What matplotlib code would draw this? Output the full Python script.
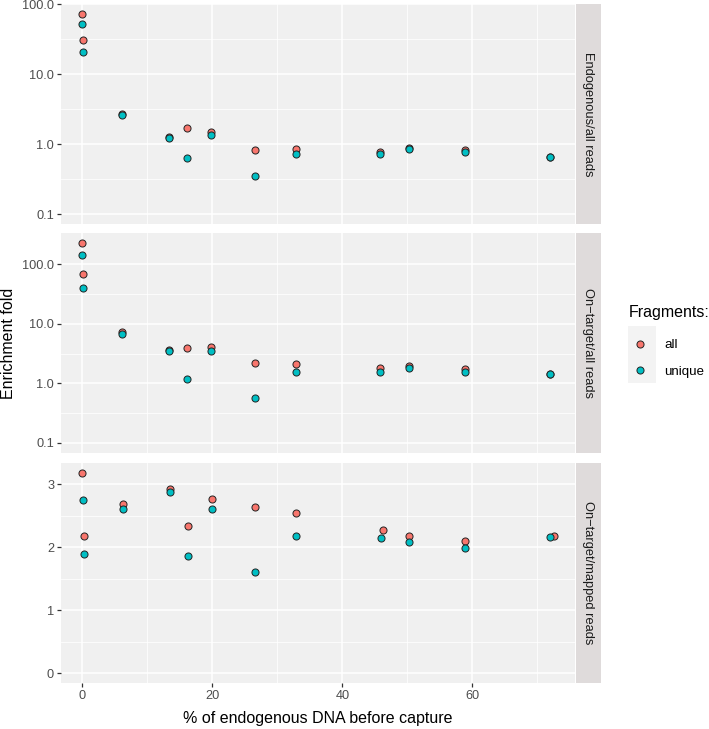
import numpy as np
import matplotlib
matplotlib.use("Agg")
import matplotlib.pyplot as plt
from matplotlib.lines import Line2D
from matplotlib.patches import Rectangle

plt.rcParams['font.family'] = ['Liberation Sans', 'DejaVu Sans']

# % of endogenous DNA before capture (same libraries in every panel)
endo_pct = [0.0, 0.15, 6.1, 13.3, 16.15, 19.85, 26.5, 32.8, 45.85, 50.25, 58.8, 71.95]
# bottom panel points sit at slightly shifted x (jitter in the source figure)
mapped_pct_all = [0.0, 0.3, 6.2, 13.4, 16.25, 19.95, 26.6, 32.9, 46.25, 50.3, 58.9, 72.5]
mapped_pct_unique = [0.15, 0.3, 6.2, 13.4, 16.25, 19.95, 26.6, 32.9, 45.9, 50.3, 58.9, 71.9]

endo_all = [72.6, 31.0, 2.72, 1.25, 1.68, 1.50, 0.82, 0.84, 0.78, 0.88, 0.83, 0.66]
endo_unique = [52.0, 20.9, 2.58, 1.23, 0.63, 1.35, 0.35, 0.72, 0.72, 0.86, 0.78, 0.66]
ontarget_all = [225.0, 67.0, 7.26, 3.67, 3.92, 4.12, 2.16, 2.11, 1.81, 1.96, 1.76, 1.42]
ontarget_unique = [139.0, 39.0, 6.7, 3.53, 1.17, 3.53, 0.57, 1.57, 1.55, 1.81, 1.57, 1.42]
mapped_all = [3.175, 2.17, 2.68, 2.92, 2.33, 2.76, 2.64, 2.54, 2.27, 2.17, 2.10, 2.18]
mapped_unique = [2.74, 1.89, 2.61, 2.88, 1.85, 2.60, 1.60, 2.18, 2.14, 2.08, 1.99, 2.16]

strip_labels = ["Endogenous/all reads", "On\u2212target/all reads", "On\u2212target/mapped reads"]
fragment_labels = ["all", "unique"]
colors = ["#F8766D", "#00BFC4"]

log_ticks = [0.1, 1, 10, 100]
log_tick_labels = ["0.1", "1.0", "10.0", "100.0"]
lin_ticks = [0, 1, 2, 3]
x_ticks = [0, 20, 40, 60]

W, H = 709, 729
fig = plt.figure(figsize=(W / 100, H / 100), dpi=100)

def px_axes(x0, y0, x1, y1):
    return fig.add_axes([x0 / W, 1 - y1 / H, (x1 - x0) / W, (y1 - y0) / H])

panel_rows = [(4, 224), (233, 453), (463, 683)]
panel_l, panel_r = 61, 575
strip_l, strip_r = 576, 601

panels = [
    (endo_pct, endo_all, endo_pct, endo_unique, True),
    (endo_pct, ontarget_all, endo_pct, ontarget_unique, True),
    (mapped_pct_all, mapped_all, mapped_pct_unique, mapped_unique, False),
]

tick_col = "#4D4D4D"
tick_fs = 9.2
title_fs = 11.5

for i, ((y0, y1), (xa, ya, xu, yu, is_log)) in enumerate(zip(panel_rows, panels)):
    ax = px_axes(panel_l, y0, panel_r, y1)
    ax.set_facecolor("#F0F0F0")
    for s in ax.spines.values():
        s.set_visible(False)
    ax.set_axisbelow(True)

    ax.scatter(xa, ya, s=26, c=colors[0], edgecolors="#222222", linewidths=0.7, zorder=3)
    ax.scatter(xu, yu, s=26, c=colors[1], edgecolors="#222222", linewidths=0.7, zorder=3)

    ax.set_xlim(-3.3, 75.8)
    ax.set_xticks(x_ticks)
    ax.set_xticks([10, 30, 50, 70], minor=True)

    if is_log:
        ax.set_yscale("log")
        hi = np.log10(max(max(ya), max(yu)))
        lo = -1.0
        r = hi - lo
        ax.set_ylim(10 ** (lo - 0.05 * r), 10 ** (hi + 0.05 * r))
        ax.set_yticks(log_ticks)
        ax.set_yticklabels(log_tick_labels)
        ax.set_yticks([10 ** -0.5, 10 ** 0.5, 10 ** 1.5], minor=True)
        ax.yaxis.set_minor_formatter(plt.NullFormatter())
    else:
        hi = max(max(ya), max(yu))
        ax.set_ylim(-0.05 * hi, 1.05 * hi)
        ax.set_yticks(lin_ticks)
        ax.set_yticks([0.5, 1.5, 2.5], minor=True)

    ax.grid(True, which="major", color="white", linewidth=1.1)
    ax.grid(True, which="minor", color="white", linewidth=0.55)
    ax.tick_params(axis="both", which="major", length=3, width=0.9, color="#333333",
                   labelsize=tick_fs, labelcolor=tick_col, pad=2)
    ax.tick_params(axis="both", which="minor", length=0)
    if i < 2:
        ax.tick_params(axis="x", which="major", length=0, labelbottom=False)

    sax = px_axes(strip_l, y0, strip_r, y1)
    sax.set_xticks([])
    sax.set_yticks([])
    for s in sax.spines.values():
        s.set_visible(False)
    sax.set_facecolor("#DFDBDB")
    sax.text(0.5, 0.5, strip_labels[i], rotation=-90, ha="center", va="center",
             fontsize=9.3, color="#1A1A1A", transform=sax.transAxes)

fig.text(318 / W, 1 - 719 / H, "% of endogenous DNA before capture", ha="center", va="center",
         fontsize=title_fs, color="black")
fig.text(9 / W, 1 - 343 / H, "Enrichment fold", ha="center", va="center", rotation=90,
         fontsize=title_fs, color="black")

# legend: title, grey key background, then entries
fig.text(629 / W, 1 - 312 / H, "Fragments:", ha="left", va="center",
         fontsize=title_fs, color="black")
fig.patches.append(Rectangle((628 / W, 1 - 383 / H), 28 / W, 57 / H,
                             transform=fig.transFigure, facecolor="#F3F3F3",
                             edgecolor="none"))
handles = [Line2D([], [], marker="o", linestyle="", markersize=5.1, markerfacecolor=c,
                  markeredgecolor="#222222", markeredgewidth=0.7) for c in colors]
leg = fig.legend(handles, fragment_labels, loc="upper left",
                 bbox_to_anchor=(629 / W, 1 - 339 / H), frameon=False,
                 fontsize=9.6, handlelength=1.67, handletextpad=0.95,
                 labelspacing=1.05, borderpad=0, borderaxespad=0)

fig.savefig("out.png", dpi=100)
